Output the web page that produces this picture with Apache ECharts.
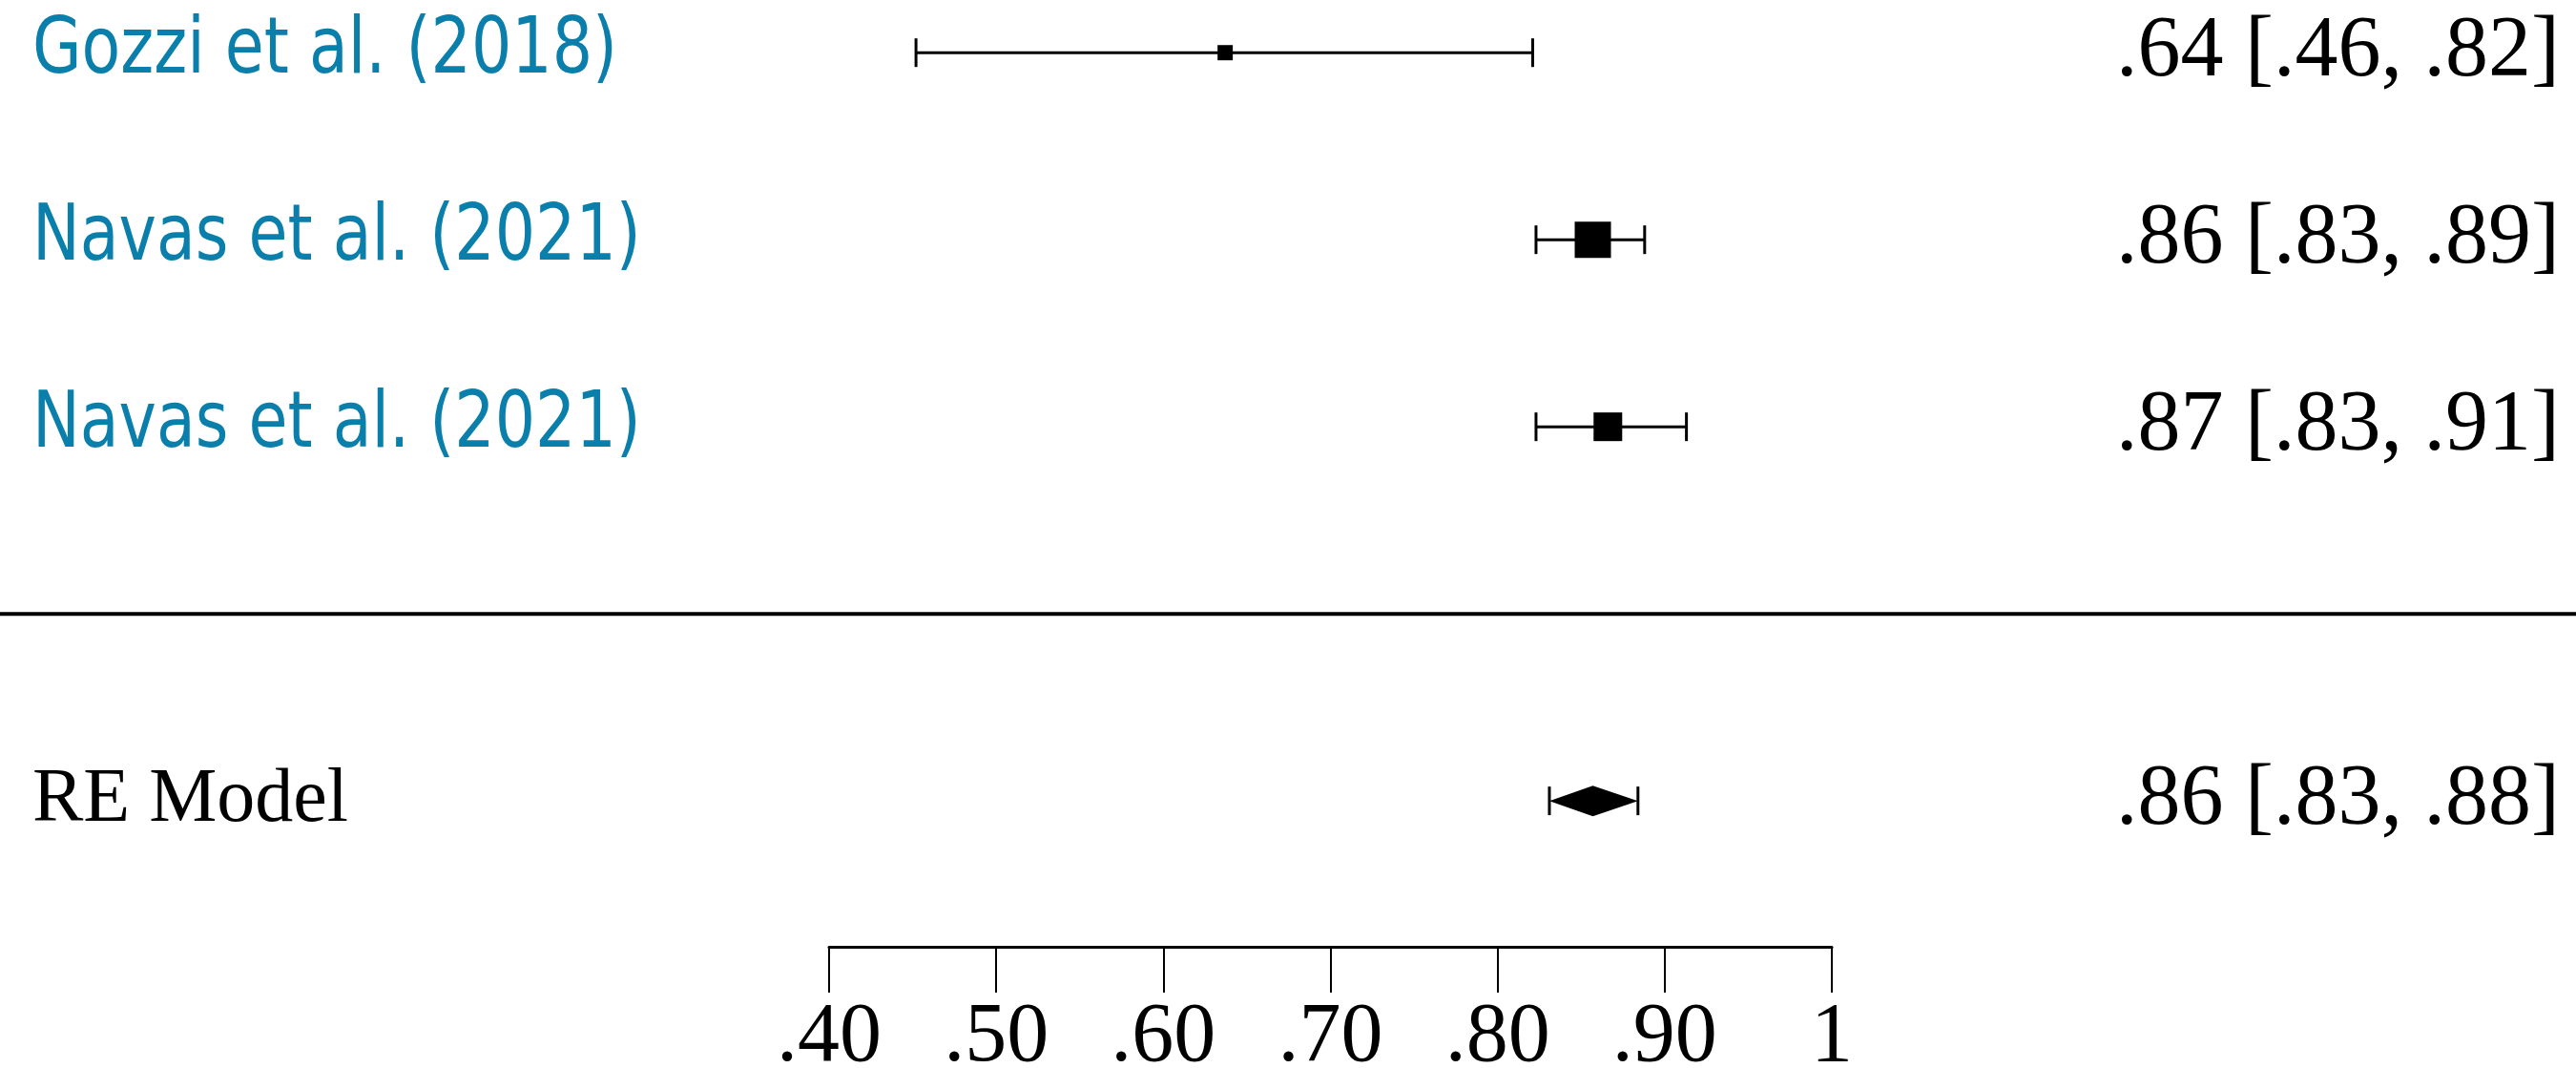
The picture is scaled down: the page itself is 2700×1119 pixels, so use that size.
<!DOCTYPE html>
<html><head><meta charset="utf-8">
<script src="https://cdn.jsdelivr.net/npm/echarts@6/dist/echarts.min.js"></script>
<style>html,body{margin:0;padding:0;background:#fff}#c{width:2700px;height:1119px}</style>
</head><body><div id="c"></div>
<script>
// ---- data ----
const studies = ['Gozzi et al. (2018)', 'Navas et al. (2021)', 'Navas et al. (2021)'];
const estimates = [0.637, 0.857, 0.866];
const lowerCI = [0.452, 0.823, 0.823];
const upperCI = [0.821, 0.888, 0.913];
const ciLabels = ['.64 [.46, .82]', '.86 [.83, .89]', '.87 [.83, .91]'];
const relWeights = [0.42, 1.0, 0.79];
const pooledLabel = 'RE Model';
const pooledEstimate = 0.857;
const pooledLower = 0.831;
const pooledUpper = 0.884;
const pooledCiLabel = '.86 [.83, .88]';
const xTicks = [0.4, 0.5, 0.6, 0.7, 0.8, 0.9, 1.0];
const tickLabels = ['.40', '.50', '.60', '.70', '.80', '.90', '1'];

// ---- styling / layout ----
const BLUE = '#0a7fab';
const SERIF = '"Liberation Serif", "Times New Roman", serif';
const SANS = '"DejaVu Sans Condensed", "Liberation Sans Narrow", sans-serif';
const NUM_FONT = '90px ' + SERIF;
const MODEL_FONT = '80px ' + SERIF;
const NAME_FONT = '74px ' + SANS;
const NAME_STRETCH = 1.1;
const LEFT_X = 34;
const RIGHT_PAD = 17;
const CAP_HALF = 15;
const MAX_SQ = 38;
const DIAMOND_HALF = 16;

const nRows = studies.length;
const studyData = studies.map((s, i) => [estimates[i], lowerCI[i], upperCI[i], nRows + 2 - i, relWeights[i], i]);
const sepRow = 2, pooledRow = 1;

const chart = echarts.init(document.getElementById('c'), null, {renderer: 'canvas'});

function textEl(x, y, text, fill, font, align, sy) {
  const el = {type: 'text', silent: true, style: {x: x, y: y, text: text, fill: fill, font: font,
    textAlign: align, textVerticalAlign: 'middle', align: align, verticalAlign: 'middle'}};
  if (sy) { el.scaleY = sy; el.originX = x; el.originY = y; }
  return el;
}

chart.setOption({
  backgroundColor: '#fff',
  animation: false,
  grid: {left: 869, right: 780, top: 16, bottom: 127, containLabel: false, outerBoundsMode: 'none'},
  xAxis: {
    type: 'value', min: 0.4, max: 1.0, interval: 0.1,
    axisLine: {show: true, onZero: false, lineStyle: {color: '#000', width: 3}},
    axisTick: {show: true, length: 48, lineStyle: {color: '#000', width: 2}},
    splitLine: {show: false},
    axisLabel: {
      margin: 52, color: '#000', fontFamily: SERIF, fontSize: 88,
      formatter: v => { const k = xTicks.findIndex(t => Math.abs(t - v) < 1e-9); return k >= 0 ? tickLabels[k] : ''; }
    }
  },
  yAxis: {type: 'value', min: 0.22, max: 5.2, show: false},
  series: [
    {
      type: 'custom', clip: false, silent: true,
      data: studyData,
      renderItem: (params, api) => {
        const row = api.value(3);
        const pE = api.coord([api.value(0), row]);
        const pL = api.coord([api.value(1), row]);
        const pU = api.coord([api.value(2), row]);
        const sq = MAX_SQ * api.value(4);
        const idx = api.value(5);
        const ls = {stroke: '#000', lineWidth: 3};
        return {type: 'group', children: [
          {type: 'line', shape: {x1: pL[0], y1: pL[1], x2: pU[0], y2: pU[1]}, style: ls},
          {type: 'line', shape: {x1: pL[0], y1: pL[1] - CAP_HALF, x2: pL[0], y2: pL[1] + CAP_HALF}, style: ls},
          {type: 'line', shape: {x1: pU[0], y1: pU[1] - CAP_HALF, x2: pU[0], y2: pU[1] + CAP_HALF}, style: ls},
          {type: 'rect', shape: {x: pE[0] - sq / 2, y: pE[1] - sq / 2, width: sq, height: sq}, style: {fill: '#000'}},
          textEl(LEFT_X, pE[1], studies[idx], BLUE, NAME_FONT, 'left', NAME_STRETCH),
          textEl(api.getWidth() - RIGHT_PAD, pE[1], ciLabels[idx], '#000', NUM_FONT, 'right')
        ]};
      }
    },
    {
      type: 'custom', clip: false, silent: true,
      data: [[0.4, sepRow]],
      renderItem: (params, api) => {
        const p = api.coord([api.value(0), api.value(1)]);
        return {type: 'line', shape: {x1: 0, y1: p[1], x2: api.getWidth(), y2: p[1]}, style: {stroke: '#000', lineWidth: 4}};
      }
    },
    {
      type: 'custom', clip: false, silent: true,
      data: [[pooledEstimate, pooledLower, pooledUpper, pooledRow]],
      renderItem: (params, api) => {
        const row = api.value(3);
        const pE = api.coord([api.value(0), row]);
        const pL = api.coord([api.value(1), row]);
        const pU = api.coord([api.value(2), row]);
        const ls = {stroke: '#000', lineWidth: 3};
        return {type: 'group', children: [
          {type: 'polygon', shape: {points: [[pL[0], pL[1]], [pE[0], pE[1] - DIAMOND_HALF], [pU[0], pU[1]], [pE[0], pE[1] + DIAMOND_HALF]]}, style: {fill: '#000'}},
          {type: 'line', shape: {x1: pL[0], y1: pL[1] - CAP_HALF, x2: pL[0], y2: pL[1] + CAP_HALF}, style: ls},
          {type: 'line', shape: {x1: pU[0], y1: pU[1] - CAP_HALF, x2: pU[0], y2: pU[1] + CAP_HALF}, style: ls},
          textEl(LEFT_X, pE[1], pooledLabel, '#000', MODEL_FONT, 'left'),
          textEl(api.getWidth() - RIGHT_PAD, pE[1], pooledCiLabel, '#000', NUM_FONT, 'right')
        ]};
      }
    }
  ]
});
</script>
</body></html>
